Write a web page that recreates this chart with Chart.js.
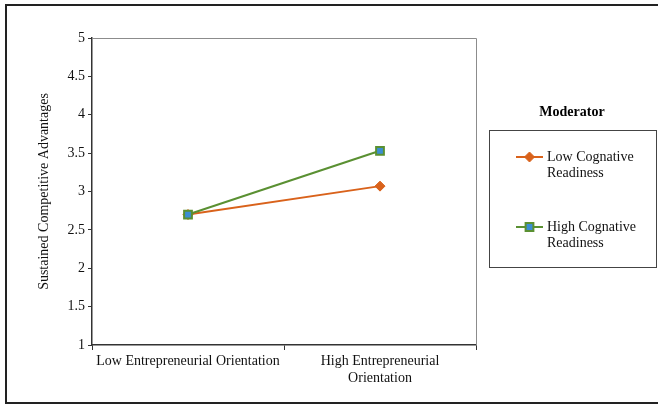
<!DOCTYPE html>
<html>
<head>
<meta charset="utf-8">
<script src="https://cdn.jsdelivr.net/npm/chart.js@4/dist/chart.umd.min.js"></script>
<style>
  html, body { margin: 0; padding: 0; background: #fff; }
  #wrap { width: 658px; height: 406px; }
</style>
</head>
<body>
<div id="wrap"><canvas id="chart"></canvas></div>
<script>
// Data
const categories = ['Low Entrepreneurial Orientation', ['High Entrepreneurial', 'Orientation']];
const lowReadiness = [2.70, 3.07];
const highReadiness = [2.70, 3.53];
const seriesNames = [['Low Cognative', 'Readiness'], ['High Cognative', 'Readiness']];
const yTicks = [1, 1.5, 2, 2.5, 3, 3.5, 4, 4.5, 5];

const FONT = 'Liberation Serif, "Times New Roman", serif';
const ORANGE = '#d9621b';
const GREEN = '#5a9032';
const BLUE = '#3b8ed3';

// Frame, plot border and the "Moderator" legend box
const decorPlugin = {
  id: 'decor',
  afterDraw(chart) {
    const ctx = chart.ctx;
    const a = chart.chartArea;
    ctx.save();

    // outer frame
    ctx.strokeStyle = '#222';
    ctx.lineWidth = 2;
    ctx.strokeRect(6, 5, 660, 398);

    // top + right of plot area
    ctx.strokeStyle = '#8c8c8c';
    ctx.lineWidth = 1;
    ctx.beginPath();
    ctx.moveTo(a.left, a.top + 0.5);
    ctx.lineTo(a.right + 0.5, a.top + 0.5);
    ctx.lineTo(a.right + 0.5, a.bottom);
    ctx.stroke();

    // legend title
    ctx.fillStyle = '#000';
    ctx.font = 'bold 14px ' + FONT;
    ctx.textAlign = 'center';
    ctx.textBaseline = 'middle';
    ctx.fillText('Moderator', 572, 112);

    // legend box
    ctx.strokeStyle = '#444';
    ctx.lineWidth = 1;
    ctx.strokeRect(489.5, 130.5, 167, 137);

    const rows = [157, 227];
    chart.data.datasets.forEach((ds, i) => {
      const y = rows[i];
      ctx.strokeStyle = ds.borderColor;
      ctx.lineWidth = 2;
      ctx.beginPath();
      ctx.moveTo(516, y);
      ctx.lineTo(543, y);
      ctx.stroke();

      ctx.fillStyle = ds.pointBackgroundColor;
      ctx.strokeStyle = ds.pointBorderColor;
      ctx.lineWidth = ds.pointBorderWidth;
      Chart.helpers.drawPoint(ctx, {
        pointStyle: ds.pointStyle,
        radius: ds.pointRadius,
        borderWidth: ds.pointBorderWidth
      }, 529.5, y);

      ctx.fillStyle = '#111';
      ctx.font = '14px ' + FONT;
      ctx.textAlign = 'left';
      seriesNames[i].forEach((t, k) => ctx.fillText(t, 547, y + k * 16));
    });
    ctx.restore();
  }
};

new Chart(document.getElementById('chart'), {
  type: 'line',
  data: {
    labels: categories,
    datasets: [
      {
        label: seriesNames[0].join(' '),
        data: lowReadiness,
        order: 1,
        borderColor: ORANGE,
        borderWidth: 2,
        pointStyle: 'rectRot',
        pointRadius: 5,
        pointBackgroundColor: ORANGE,
        pointBorderColor: ORANGE,
        pointBorderWidth: 1,
        tension: 0
      },
      {
        label: seriesNames[1].join(' '),
        data: highReadiness,
        order: 0,
        borderColor: GREEN,
        borderWidth: 2,
        pointStyle: 'rect',
        pointRadius: 5.5,
        pointBackgroundColor: BLUE,
        pointBorderColor: GREEN,
        pointBorderWidth: 2,
        tension: 0
      }
    ]
  },
  options: {
    responsive: true,
    maintainAspectRatio: false,
    animation: false,
    layout: { padding: { left: 0, top: 38, right: 182, bottom: 0 } },
    plugins: {
      legend: { display: false },
      tooltip: { enabled: false }
    },
    scales: {
      x: {
        type: 'category',
        offset: true,
        afterFit: s => { s.height = 61; },
        grid: {
          display: true, drawOnChartArea: false, drawTicks: true,
          tickLength: 5, offset: true, color: '#333'
        },
        border: { display: true, color: '#333', width: 1.5 },
        ticks: {
          color: '#111', padding: 3, maxRotation: 0, autoSkip: false,
          font: { family: FONT, size: 14 }
        }
      },
      y: {
        min: 1,
        max: 5,
        afterFit: s => { s.width = 92; },
        afterBuildTicks: s => { s.ticks = yTicks.map(v => ({ value: v })); },
        grid: {
          display: true, drawOnChartArea: false, drawTicks: true,
          tickLength: 4, color: '#333'
        },
        border: { display: true, color: '#333', width: 1.5 },
        ticks: {
          color: '#111', padding: 3,
          font: { family: FONT, size: 14 },
          callback: v => String(v)
        },
        title: {
          display: true,
          text: 'Sustained Competitive Advantages',
          color: '#111',
          padding: { top: 36, bottom: 0 },
          font: { family: FONT, size: 14 }
        }
      }
    }
  },
  plugins: [decorPlugin]
});
</script>
</body>
</html>
